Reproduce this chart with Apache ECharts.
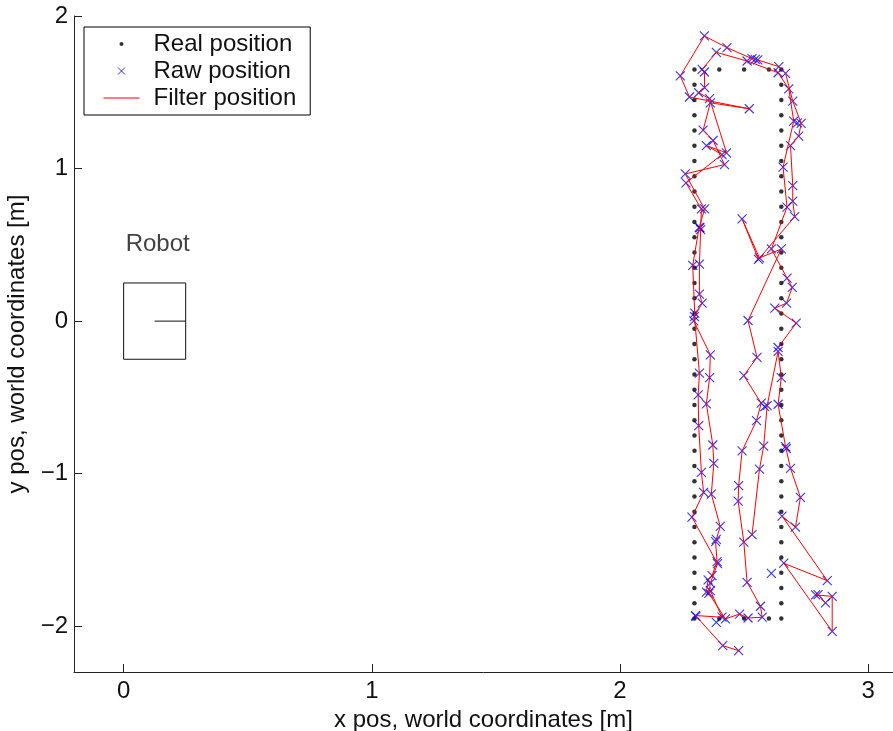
<!DOCTYPE html>
<html><head><meta charset="utf-8">
<script src="https://cdn.jsdelivr.net/npm/echarts@6/dist/echarts.min.js"></script>
<style>html,body{margin:0;padding:0;background:#fff}#c{width:893px;height:731px}</style>
</head><body><div id="c"></div>
<script>
// ---- tick labels ----
const xTicks = [0, 1, 2, 3];
const yTicks = [-2, -1, 0, 1, 2];

// ---- real position (rectangle driven by the robot) ----
const realColumnX = [2.3, 2.65];
const realColumnY = [1.65, 1.55, 1.45, 1.35, 1.25, 1.15, 1.05, 0.95, 0.85, 0.75, 0.65, 0.55, 0.45, 0.35, 0.25, 0.15, 0.05,
  -0.05, -0.15, -0.25, -0.35, -0.45, -0.55, -0.65, -0.75, -0.85, -0.95, -1.05, -1.15, -1.25, -1.35, -1.45, -1.55, -1.65, -1.75, -1.85, -1.95];
const realRowX = [2.4, 2.5, 2.6];
const realRowY = [1.65, -1.95];

// ---- raw (measured) positions ----
const rawPositions = [
  [2.828,-1.847],[2.798,-1.793],[2.788,-1.795],[2.855,-1.804],[2.855,-2.034],[2.660,-1.587],[2.835,-1.701],
  [2.653,-1.278],[2.707,-1.351],[2.727,-1.156],[2.687,-0.965],[2.667,-0.823],[2.670,-0.835],[2.637,-0.545],
  [2.650,-0.370],[2.637,-0.199],[2.593,-0.554],[2.579,-0.819],[2.562,-0.970],[2.532,-1.399],[2.499,-1.449],
  [2.512,-1.712],[2.566,-1.869],[2.573,-1.941],[2.516,-1.946],[2.482,-1.920],[2.425,-1.952],[2.358,-1.784],
  [2.364,-1.718],[2.393,-1.590],[2.290,-1.285],[2.337,-1.123],[2.328,-0.991],[2.317,-0.685],[2.315,-0.484],
  [2.320,-0.341],[2.300,0.030],[2.331,0.118],[2.320,0.177],[2.320,0.374],[2.325,0.600],[2.322,0.612],
  [2.328,0.735],[2.266,0.906],[2.411,1.092],[2.348,1.151],[2.429,1.103],[2.361,1.458],[2.317,1.497],
  [2.341,1.530],[2.340,1.633],[2.331,1.650],[2.388,1.762],[2.512,1.705],[2.637,1.628],[2.680,1.523],
  [2.700,1.311],[2.657,1.009],[2.673,0.747],[2.610,0.473],[2.673,0.282],[2.694,0.221],[2.671,0.118],
  [2.624,0.085],[2.710,-0.013],[2.637,-0.173],
  [2.476,-1.180],[2.478,-1.079],[2.492,-0.851],[2.550,-0.652],[2.569,-0.538],[2.499,-0.357],[2.552,-0.238],
  [2.516,0.004],[2.650,0.473],[2.562,0.414],[2.492,0.670],[2.558,0.405],[2.704,0.685],[2.696,0.786],
  [2.696,0.888],[2.687,1.151],[2.720,1.213],[2.730,1.296],[2.696,1.442],[2.667,1.624],[2.640,1.668],
  [2.555,1.712],[2.532,1.720],[2.431,1.793],[2.340,1.869],[2.243,1.607],[2.280,1.469],[2.521,1.392],
  [2.364,1.431],[2.335,1.252],[2.375,1.184],[2.421,1.026],[2.263,0.965],[2.341,0.735],[2.319,0.615],
  [2.293,0.366],[2.301,0.053],[2.297,0.002],[2.364,-0.221],[2.361,-0.370],[2.348,-0.543],[2.374,-0.812],
  [2.378,-0.932],[2.368,-1.134],[2.404,-1.346],[2.388,-1.430],[2.385,-1.445],[2.391,-1.576],[2.371,-1.668],
  [2.355,-1.696],[2.348,-1.777],[2.364,-1.766],[2.411,-1.941],[2.388,-1.974],[2.306,-1.935],[2.304,-1.930],
  [2.414,-2.127],[2.478,-2.160],
  [2.610,-1.653],[2.583,-0.560],[2.715,1.300],[2.545,1.715]
];

// ---- filter positions (two pieces of the filtered track) ----
const filterTrack1 = [
  [2.828,-1.847],[2.798,-1.793],[2.788,-1.795],[2.855,-1.804],[2.855,-2.034],[2.660,-1.587],[2.835,-1.701],
  [2.653,-1.278],[2.707,-1.351],[2.727,-1.156],[2.687,-0.965],[2.667,-0.823],[2.670,-0.835],[2.637,-0.545],
  [2.650,-0.370],[2.637,-0.199],[2.593,-0.554],[2.579,-0.819],[2.562,-0.970],[2.532,-1.399],[2.499,-1.449],
  [2.512,-1.712],[2.566,-1.869],[2.573,-1.941],[2.516,-1.946],[2.482,-1.920],[2.425,-1.952],[2.358,-1.784],
  [2.364,-1.718],[2.393,-1.590],[2.290,-1.285],[2.337,-1.123],[2.328,-0.991],[2.317,-0.685],[2.315,-0.484],
  [2.320,-0.341],[2.300,0.030],[2.331,0.118],[2.320,0.177],[2.320,0.374],[2.325,0.600],[2.322,0.612],
  [2.328,0.735],[2.266,0.906],[2.411,1.092],[2.348,1.151],[2.429,1.103],[2.361,1.458],[2.317,1.497],
  [2.341,1.530],[2.340,1.633],[2.331,1.650],[2.388,1.762],[2.512,1.705],[2.637,1.628],[2.680,1.523],
  [2.700,1.311],[2.657,1.009],[2.673,0.747],[2.610,0.473],[2.673,0.282],[2.694,0.221],[2.671,0.118],
  [2.624,0.085],[2.710,-0.013],[2.637,-0.173]
];
const filterTrack2 = [
  [2.499,-1.449],[2.476,-1.180],[2.478,-1.079],[2.492,-0.851],[2.550,-0.652],[2.569,-0.538],[2.499,-0.357],
  [2.552,-0.238],[2.516,0.004],[2.650,0.473],[2.562,0.414],[2.492,0.670],[2.558,0.405],[2.704,0.685],
  [2.696,0.786],[2.696,0.888],[2.687,1.151],[2.720,1.213],[2.730,1.296],[2.696,1.442],[2.667,1.624],
  [2.640,1.668],[2.555,1.712],[2.532,1.720],[2.431,1.793],[2.340,1.869],[2.243,1.607],[2.280,1.469],
  [2.521,1.392],[2.364,1.431],[2.335,1.252],[2.375,1.184],[2.421,1.026],[2.263,0.965],[2.341,0.735],
  [2.319,0.615],[2.293,0.366],[2.301,0.053],[2.297,0.002],[2.364,-0.221],[2.361,-0.370],[2.348,-0.543],
  [2.374,-0.812],[2.378,-0.932],[2.368,-1.134],[2.404,-1.346],[2.388,-1.430],[2.385,-1.445],[2.391,-1.576],
  [2.371,-1.668],[2.355,-1.696],[2.348,-1.777],[2.364,-1.766],[2.411,-1.941],[2.304,-1.930],[2.306,-1.935],
  [2.414,-2.127],[2.478,-2.160]
];

// ---- robot drawing ----
const robotOutline = [[0,-0.25],[0.25,-0.25],[0.25,0.25],[0,0.25],[0,-0.25]];
const robotHeading = [[0.125,0],[0.25,0]];
const robotLabel = [[0,0.5]];

// build real positions table from the arrays
const realPositions = [];
realColumnX.forEach(x => realColumnY.forEach(y => realPositions.push([x, y])));
realRowY.forEach(y => realRowX.forEach(x => realPositions.push([x, y])));

const FONT = "'Liberation Sans', Arial, Helvetica, sans-serif";
const INK = '#111';
const minus = v => String(v).replace('-', '\u2212');
const X_SYMBOL = 'path://M0,0L8,8M8,0L0,8';

const chart = echarts.init(document.getElementById('c'), null, {renderer: 'canvas'});
chart.setOption({
  animation: false,
  backgroundColor: '#fff',
  grid: {left: 74, right: 0, top: 16, bottom: 59, containLabel: false, outerBoundsMode: 'none'},
  xAxis: {
    type: 'value', min: -0.2, max: 3.1,
    name: 'x pos, world coordinates [m]', nameLocation: 'middle', nameGap: 34,
    nameTextStyle: {fontSize: 24, fontFamily: FONT, color: INK},
    axisLine: {onZero: false, lineStyle: {color: '#222', width: 1}},
    axisTick: {inside: true, length: 8, customValues: xTicks, lineStyle: {color: '#222'}},
    axisLabel: {customValues: xTicks, margin: 7, fontSize: 24, fontFamily: FONT, color: INK, formatter: minus},
    splitLine: {show: false}
  },
  yAxis: {
    type: 'value', min: -2.3, max: 2,
    name: 'y pos, world coordinates [m]', nameLocation: 'middle', nameGap: 45, nameRotate: 90,
    nameTextStyle: {fontSize: 24, fontFamily: FONT, color: INK},
    axisLine: {onZero: false, lineStyle: {color: '#222', width: 1}},
    axisTick: {inside: true, length: 8, customValues: yTicks, lineStyle: {color: '#222'}},
    axisLabel: {customValues: yTicks, margin: 6, fontSize: 24, fontFamily: FONT, color: INK, formatter: minus},
    splitLine: {show: false}
  },
  legend: {
    orient: 'vertical', left: 84, top: 27,
    backgroundColor: '#fff', borderColor: '#000', borderWidth: 1, borderRadius: 0,
    padding: [5, 14, 5, 19],
    itemWidth: 36, itemHeight: 8, itemGap: 3,
    selectedMode: false,
    textStyle: {fontSize: 24, fontFamily: FONT, color: INK, padding: [0, 0, 0, 9]},
    data: [
      {name: 'Real position', icon: 'path://M0,0M36,8M16,4a2,2 0 1,0 4,0a2,2 0 1,0 -4,0z',
        itemStyle: {color: '#000', borderWidth: 0}},
      {name: 'Raw position', icon: 'path://M0,0M36,8M14.5,0.5L21.5,7.5M21.5,0.5L14.5,7.5',
        itemStyle: {color: 'transparent', borderColor: '#0000ff', borderWidth: 1}},
      {name: 'Filter position', icon: 'path://M0,0M36,8M0,4L36,4',
        itemStyle: {color: 'transparent', borderColor: '#ff0000', borderWidth: 1}}
    ]
  },
  series: [
    {name: 'Real position', type: 'scatter', data: realPositions, symbol: 'circle', symbolSize: 4.5,
      itemStyle: {color: '#000'}, silent: true, z: 2},
    {name: 'Raw position', type: 'scatter', data: rawPositions, symbol: X_SYMBOL, symbolSize: 9,
      itemStyle: {color: 'transparent', borderColor: '#0000ff', borderWidth: 1.1}, silent: true, z: 3},
    {name: 'Filter position', type: 'line', data: filterTrack1, symbol: 'none', showSymbol: false,
      lineStyle: {color: '#ff0000', width: 1}, itemStyle: {color: '#ff0000'}, silent: true, z: 4},
    {name: 'Filter position', type: 'line', data: filterTrack2, symbol: 'none', showSymbol: false,
      lineStyle: {color: '#ff0000', width: 1}, itemStyle: {color: '#ff0000'}, silent: true, z: 4},
    {name: 'robot body', type: 'line', data: robotOutline, symbol: 'none',
      lineStyle: {color: '#111', width: 1}, silent: true, z: 2},
    {name: 'robot heading', type: 'line', data: robotHeading, symbol: 'none',
      lineStyle: {color: '#111', width: 1}, silent: true, z: 2},
    {name: 'robot label', type: 'scatter', data: robotLabel, symbolSize: 0, silent: true,
      label: {show: true, position: 'right', distance: 2, formatter: 'Robot',
        fontSize: 24, fontFamily: FONT, color: '#111'}}
  ]
});
</script>
</body></html>
